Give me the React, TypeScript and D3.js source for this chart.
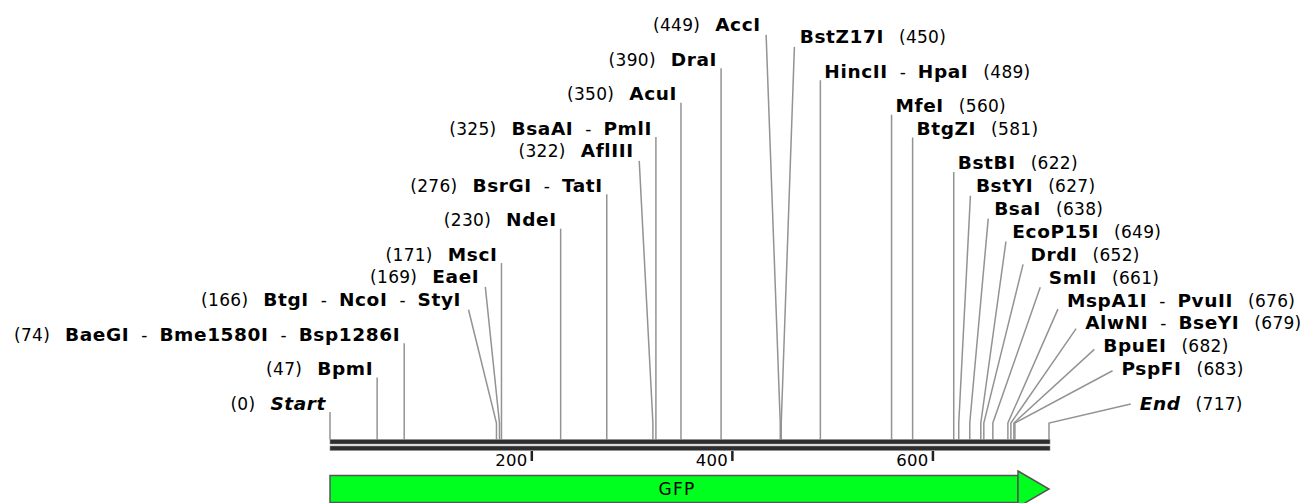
import React, { useRef, useEffect } from "react";
import { select, scaleLinear } from "d3";

// sites below the line are listed bottom row first
const leftPositions = [0, 47, 74, 166, 169, 171, 230, 276, 322, 325, 350, 390, 449];
const leftNames = [
  ["Start"],
  ["BpmI"],
  ["BaeGI", "Bme1580I", "Bsp1286I"],
  ["BtgI", "NcoI", "StyI"],
  ["EaeI"],
  ["MscI"],
  ["NdeI"],
  ["BsrGI", "TatI"],
  ["AflIII"],
  ["BsaAI", "PmlI"],
  ["AcuI"],
  ["DraI"],
  ["AccI"],
];
const rightPositions = [717, 683, 682, 679, 676, 661, 652, 649, 638, 627, 622, 581, 560, 489, 450];
const rightNames = [
  ["End"],
  ["PspFI"],
  ["BpuEI"],
  ["AlwNI", "BseYI"],
  ["MspA1I", "PvuII"],
  ["SmlI"],
  ["DrdI"],
  ["EcoP15I"],
  ["BsaI"],
  ["BstYI"],
  ["BstBI"],
  ["BtgZI"],
  ["MfeI"],
  ["HincII", "HpaI"],
  ["BstZ17I"],
];
const italicNames = ["Start", "End"];
const seqLength = 717;
const tickValues = [200, 400, 600];
const featureName = "GFP";
const featureStart = 0;
const featureEnd = 717;

const FONT = "'DejaVu Sans', Verdana, sans-serif";

const App = () => {
  const svgRef = useRef(null);

  useEffect(() => {
    const svg = select(svgRef.current);
    svg.selectAll("*").remove();

    const x = scaleLinear().domain([0, seqLength]).range([330, 1049]);

    const axisY = 439.5;
    const kneeY = 423;
    const baseRow = 403;
    const smallStep = 22.85;
    const bigStep = 34.4;
    const fanStep = 18.2;

    // label rows stack upward, tighter when sites are close together
    const rowY = (positions) => {
      const ys = [];
      positions.forEach((p, i) => {
        if (i === 0) ys.push(baseRow);
        else
          ys.push(
            ys[i - 1] - (Math.abs(p - positions[i - 1]) <= 22 ? smallStep : bigStep)
          );
      });
      return ys;
    };
    const leftY = rowY(leftPositions);
    const rightY = rowY(rightPositions);

    // horizontal fan: work from the top row down
    const nL = leftPositions.length;
    const nR = rightPositions.length;
    const mid = (x(leftPositions[nL - 1]) + x(rightPositions[nR - 1])) / 2;
    const leftEdge = new Array(nL);
    for (let i = nL - 1; i >= 0; i--) {
      const xs = x(leftPositions[i]);
      const limit = i === nL - 1 ? mid - 20 : leftEdge[i + 1] - fanStep;
      leftEdge[i] = Math.min(xs - 4, limit);
    }
    const rightEdge = new Array(nR);
    for (let i = nR - 1; i >= 0; i--) {
      const xs = x(rightPositions[i]);
      const limit = i === nR - 1 ? mid + 19 : rightEdge[i + 1] + fanStep;
      rightEdge[i] = Math.max(xs + 4, limit);
    }

    const connector = (xs, c, edge, side) => {
      const tx = edge - side * 5;
      if (Math.abs(tx - xs) < 2.5) return `M${xs},${axisY}V${c + 9}`;
      const boxX = edge - side * 9;
      const boxY = c + 10;
      const tX = side * (boxX - xs) > 0 ? (boxX - xs) / (tx - xs) : 0;
      const tY = (kneeY - boxY) / (kneeY - c);
      const t = Math.min(1, Math.max(tX, tY));
      return `M${xs},${axisY}V${kneeY}L${xs + t * (tx - xs)},${kneeY + t * (c - kneeY)}`;
    };

    const lines = svg.append("g").attr("fill", "none").attr("stroke", "#939393").attr("stroke-width", 1.5);
    leftPositions.forEach((p, i) => {
      lines.append("path").attr("d", connector(x(p), leftY[i], leftEdge[i], -1));
    });
    rightPositions.forEach((p, i) => {
      lines.append("path").attr("d", connector(x(p), rightY[i], rightEdge[i], 1));
    });

    // sequence line: two dark bars
    [0, 6.5].forEach((off) => {
      svg
        .append("rect")
        .attr("x", x(0))
        .attr("y", axisY + off)
        .attr("width", x(seqLength) - x(0) + 1)
        .attr("height", 4.5)
        .attr("fill", "#2e2e2e")
        .attr("stroke", "#8a8a8a")
        .attr("stroke-width", 0.6);
    });

    // ticks
    tickValues.forEach((v) => {
      svg
        .append("rect")
        .attr("x", x(v))
        .attr("y", 451)
        .attr("width", 2.5)
        .attr("height", 10)
        .attr("fill", "#222");
      svg
        .append("text")
        .attr("x", x(v) - 3)
        .attr("y", 466)
        .attr("text-anchor", "end")
        .attr("font-family", FONT)
        .attr("font-size", 16.5)
        .attr("letter-spacing", 0.3)
        .attr("fill", "#000")
        .text(v);
    });

    // feature arrow
    const fx0 = x(featureStart);
    const fx1 = x(featureEnd);
    const headStart = fx1 - 31;
    const midY = 489;
    svg
      .append("rect")
      .attr("x", fx0)
      .attr("y", midY - 13.5)
      .attr("width", headStart - fx0)
      .attr("height", 27)
      .attr("fill", "#00ff1e")
      .attr("stroke", "#555")
      .attr("stroke-width", 1.5);
    svg
      .append("path")
      .attr("d", `M${headStart},${midY - 18}L${fx1},${midY}L${headStart},${midY + 18}Z`)
      .attr("fill", "#00ff1e")
      .attr("stroke", "#555")
      .attr("stroke-width", 1.5);
    svg
      .append("text")
      .attr("x", (fx0 + headStart) / 2 + 3)
      .attr("y", midY + 6)
      .attr("text-anchor", "middle")
      .attr("font-family", FONT)
      .attr("font-size", 17)
      .attr("letter-spacing", 1.2)
      .attr("fill", "#000")
      .text(featureName);

    // labels
    const addLabel = (pos, names, c, edge, side) => {
      const t = svg
        .append("text")
        .attr("x", edge)
        .attr("y", c + 6.5)
        .attr("text-anchor", side < 0 ? "end" : "start")
        .attr("font-family", FONT)
        .attr("fill", "#000");
      const numPart = () =>
        t
          .append("tspan")
          .attr("font-size", 17)
          .attr("letter-spacing", 0.3)
          .text(`(${pos})`);
      const namePart = (first) =>
        names.forEach((n, k) => {
          if (k > 0) {
            t.append("tspan").attr("dx", 12).attr("font-size", 17).text("-");
          }
          const s = t
            .append("tspan")
            .attr("font-size", 18.5)
            .attr("letter-spacing", 0.6)
            .attr("font-weight", "bold")
            .text(n);
          if (k > 0) s.attr("dx", 12);
          else if (!first) s.attr("dx", 15);
          if (italicNames.includes(n)) s.attr("font-style", "italic");
        });
      if (side < 0) {
        numPart();
        namePart(false);
      } else {
        namePart(true);
        numPart().attr("dx", 15);
      }
    };
    leftPositions.forEach((p, i) => addLabel(p, leftNames[i], leftY[i], leftEdge[i], -1));
    rightPositions.forEach((p, i) => addLabel(p, rightNames[i], rightY[i], rightEdge[i], 1));
  }, []);

  return (
    <svg
      ref={svgRef}
      width={1306}
      height={503}
      style={{ position: "absolute", left: 0, top: 0, background: "#fff" }}
    />
  );
};

export default App;
